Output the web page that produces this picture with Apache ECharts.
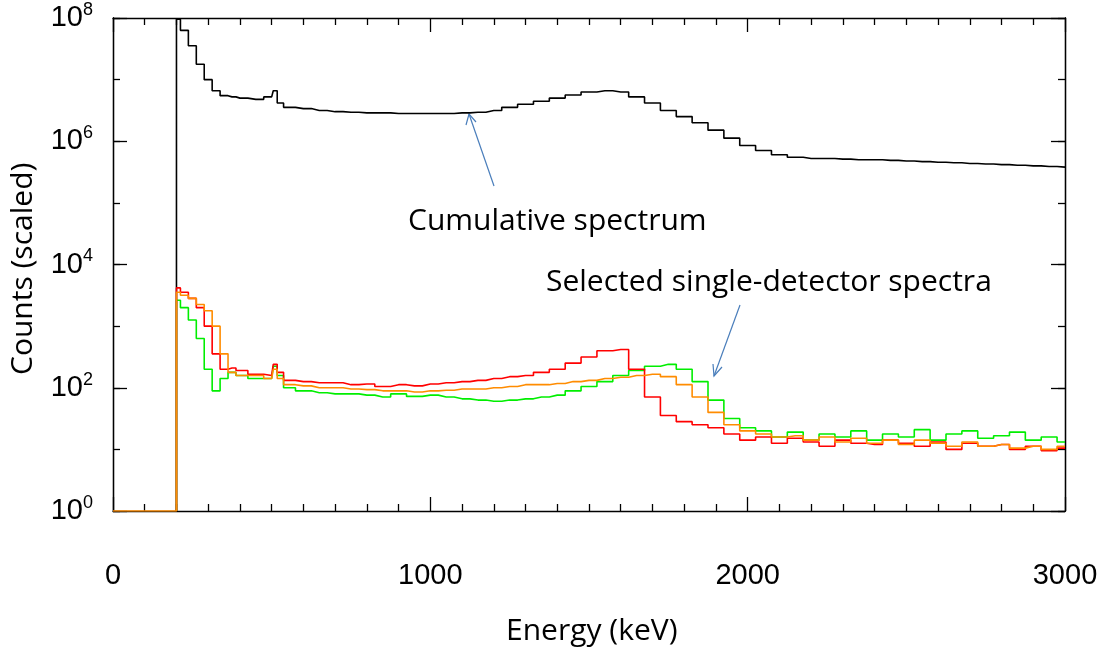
<!DOCTYPE html>
<html>
<head>
<meta charset="utf-8">
<script src="https://cdn.jsdelivr.net/npm/echarts@6/dist/echarts.min.js"></script>
<style>html,body{margin:0;background:#fff}#c{width:1103px;height:648px}</style>
</head>
<body>
<div id="c"></div>
<script>
// energy bins (keV) and log10 counts
const energy = [200,225,250,275,300,325,350,375,400,450,500,510,525,550,600,650,700,750,800,850,900,950,1000,1050,1100,1150,1200,1250,1300,1350,1400,1450,1500,1550,1600,1650,1700,1750,1800,1850,1900,1950,2000,2050,2100,2150,2200,2250,2300,2350,2400,2450,2500,2550,2600,2650,2700,2750,2800,2850,2900,2950,3000];
const logCumulative = [7.98,7.8,7.55,7.25,7.0,6.82,6.74,6.72,6.7,6.68,6.72,6.82,6.62,6.55,6.53,6.5,6.48,6.47,6.46,6.46,6.45,6.45,6.45,6.45,6.46,6.47,6.5,6.55,6.6,6.65,6.7,6.75,6.8,6.82,6.8,6.72,6.62,6.5,6.4,6.3,6.18,6.05,5.93,5.85,5.78,5.74,5.72,5.72,5.71,5.7,5.7,5.69,5.68,5.67,5.66,5.65,5.64,5.63,5.62,5.61,5.6,5.59,5.58];
const logRed = [3.62,3.55,3.45,3.3,3.0,2.55,2.3,2.32,2.28,2.22,2.2,2.38,2.25,2.12,2.1,2.08,2.08,2.05,2.06,2.02,2.05,2.03,2.06,2.08,2.1,2.12,2.15,2.18,2.2,2.25,2.3,2.4,2.5,2.6,2.62,2.3,1.85,1.55,1.45,1.4,1.35,1.25,1.15,1.2,1.1,1.18,1.12,1.05,1.15,1.1,1.08,1.15,1.1,1.05,1.12,1.0,1.1,1.05,1.08,1.0,1.05,0.98,1.02];
const logGreen = [3.42,3.3,3.1,2.8,2.3,1.95,2.15,2.25,2.2,2.15,2.15,2.35,2.2,2.0,1.95,1.92,1.9,1.9,1.88,1.85,1.9,1.86,1.88,1.85,1.82,1.8,1.78,1.8,1.82,1.85,1.88,1.95,2.02,2.1,2.2,2.28,2.35,2.38,2.3,2.1,1.8,1.5,1.35,1.3,1.2,1.28,1.15,1.25,1.2,1.3,1.15,1.25,1.2,1.32,1.15,1.25,1.3,1.18,1.22,1.28,1.15,1.2,1.12];
const logOrange = [3.55,3.5,3.45,3.35,3.25,3.0,2.55,2.25,2.2,2.2,2.15,2.3,2.15,2.05,2.03,2.0,2.0,1.98,1.97,1.95,1.95,1.93,1.95,1.96,1.98,1.98,2.0,2.02,2.05,2.05,2.07,2.1,2.12,2.15,2.17,2.2,2.22,2.18,2.05,1.85,1.6,1.4,1.3,1.25,1.2,1.22,1.15,1.2,1.12,1.18,1.1,1.15,1.08,1.15,1.1,1.05,1.12,1.05,1.08,1.02,1.05,1.0,1.05];

const toPts = (logs) => [[200, 1]].concat(energy.map((e, i) => [e, Math.pow(10, logs[i])]));
const lineSeries = (name, logs, color) => ({
  name, type: 'line', step: 'middle', symbol: 'none', data: toPts(logs),
  lineStyle: { color, width: 1.6 }, silent: true
});
const orangePts = [[0, 1], [200, 1]].concat(toPts(logOrange).slice(1));

const chart = echarts.init(document.getElementById('c'));
const lbl = { fontFamily: 'Liberation Sans', fontSize: 29, color: '#000', formatter: (v) => String(v) };
const supRich = { b: { fontFamily: 'Liberation Sans', fontSize: 29, color: '#000' }, s: { fontFamily: 'Liberation Sans', fontSize: 18, color: '#000', verticalAlign: 'top', padding: [0, 0, 16, 0] } };
const yBase = { type: 'log', logBase: 10, min: 1, max: 1e8, splitLine: { show: false },
  axisLine: { show: true, lineStyle: { color: '#000', width: 1.3 } } };
const xBase = { type: 'value', min: 0, max: 3000, interval: 1000, splitLine: { show: false },
  axisLine: { show: true, lineStyle: { color: '#000', width: 1.3 } } };
const tk = (len) => ({ inside: true, length: len, lineStyle: { color: '#000', width: 1.3 } });

chart.setOption({
  animation: false,
  grid: { left: 113, right: 38, top: 18, bottom: 137 },
  xAxis: [
    Object.assign({}, xBase, { position: 'bottom', axisTick: tk(14),
      minorTick: { show: true, splitNumber: 10, length: 7, lineStyle: { color: '#000', width: 1.3 } },
      axisLabel: Object.assign({ margin: 50 }, lbl) }),
    Object.assign({}, xBase, { position: 'top', axisTick: tk(14),
      minorTick: { show: true, splitNumber: 10, length: 7, lineStyle: { color: '#000', width: 1.3 } },
      axisLabel: { show: false } })
  ],
  yAxis: [
    Object.assign({}, yBase, { position: 'left', interval: 2, axisTick: tk(14),
      axisLabel: { margin: 20, formatter: (v) => '{b|10}{s|' + Math.round(Math.log10(v)) + '}', rich: supRich } }),
    Object.assign({}, yBase, { position: 'left', interval: 1, axisTick: tk(7), axisLabel: { show: false } }),
    Object.assign({}, yBase, { position: 'right', interval: 2, axisTick: tk(14), axisLabel: { show: false } }),
    Object.assign({}, yBase, { position: 'right', interval: 1, axisTick: tk(7), axisLabel: { show: false } })
  ],
  series: [
    lineSeries('Cumulative', logCumulative, '#000'),
    lineSeries('Green', logGreen, '#00ee00'),
    lineSeries('Red', logRed, '#ff0000'),
    Object.assign(lineSeries('Orange', logOrange, '#ff8c00'), { data: orangePts })
  ],
  graphic: [
    { type: 'text', left: 408, top: 206, style: { text: 'Cumulative spectrum', font: '30px "Open Sans"', fill: '#000' } },
    { type: 'text', left: 546, top: 267, style: { text: 'Selected single-detector spectra', font: '30px "Open Sans"', fill: '#000' } },
    { type: 'text', left: 506, top: 616, style: { text: 'Energy (keV)', font: '30px "Open Sans"', fill: '#000' } },
    { type: 'text', x: 8, y: 375, rotation: Math.PI / 2, style: { text: 'Counts (scaled)', font: '30px "Open Sans"', fill: '#000' } },
    { type: 'line', shape: { x1: 494, y1: 186, x2: 469, y2: 114 }, style: { stroke: '#4a7ebb', lineWidth: 1.2 } },
    { type: 'polyline', shape: { points: [[466, 125], [469, 114], [476, 122]] }, style: { stroke: '#4a7ebb', lineWidth: 1.2, fill: null } },
    { type: 'line', shape: { x1: 740, y1: 305, x2: 714, y2: 376 }, style: { stroke: '#4a7ebb', lineWidth: 1.2 } },
    { type: 'polyline', shape: { points: [[713, 364], [714, 376], [722, 367]] }, style: { stroke: '#4a7ebb', lineWidth: 1.2, fill: null } }
  ]
});
</script>
</body>
</html>
